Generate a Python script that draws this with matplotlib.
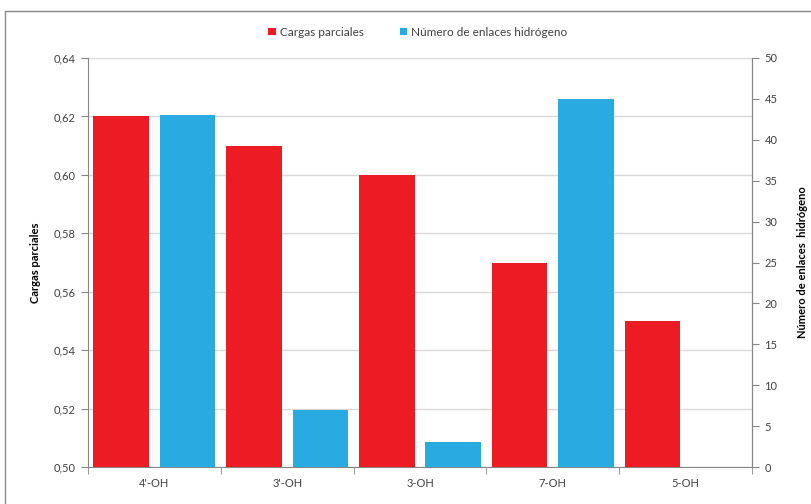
import matplotlib
matplotlib.use("Agg")
import matplotlib.pyplot as plt
from matplotlib.ticker import FuncFormatter, MultipleLocator, FixedLocator
from matplotlib.patches import Rectangle
import numpy as np

categories = ["4'-OH", "3'-OH", "3-OH", "7-OH", "5-OH"]
cargas = [0.62, 0.61, 0.60, 0.57, 0.55]
enlaces = [43, 7, 3, 45, 0]

plt.rcParams['font.family'] = ['Lato', 'DejaVu Sans']
RED = '#ED1C24'
BLUE = '#29ABE2'
SPINE = '#868686'
TXT = '#404040'

fig = plt.figure(figsize=(8.11, 5.04), dpi=100)
fig.patches.append(Rectangle((5/811, -0.1), 1.2, 1 - 11/504 + 0.1, transform=fig.transFigure,
                             fill=False, edgecolor='#8a8a8a', linewidth=1.0))

ax = fig.add_axes([88/811, 1 - 467/504, (752-88)/811, (467-58)/504])
ax2 = ax.twinx()

x = np.arange(len(categories))
w = 0.42
b1 = ax.bar(x - 0.25, np.array(cargas) - 0.50, bottom=0.50, width=w, color=RED, label='Cargas parciales', zorder=3)
b2 = ax2.bar(x + 0.25, enlaces, width=w, color=BLUE, label='Número de enlaces hidrógeno', zorder=3)

ax.set_xlim(-0.5, len(categories) - 0.5)
ax.set_ylim(0.50, 0.64)
ax2.set_ylim(0, 50)
ax.yaxis.set_major_locator(MultipleLocator(0.02))
ax2.yaxis.set_major_locator(MultipleLocator(5))
ax.yaxis.set_major_formatter(FuncFormatter(lambda v, p: f"{v:.2f}".replace('.', ',')))
ax2.yaxis.set_major_formatter(FuncFormatter(lambda v, p: f"{v:.0f}"))

ax.set_xticks(x)
ax.set_xticklabels(categories)
ax.xaxis.set_minor_locator(FixedLocator(np.arange(-0.5, len(categories), 1.0)))
ax.tick_params(axis='x', which='major', length=0, pad=8, labelsize=8, labelcolor=TXT)
ax.tick_params(axis='x', which='minor', length=5, color=SPINE, direction='out')
ax.tick_params(axis='y', length=5, color=SPINE, labelsize=8, labelcolor=TXT, pad=4)
ax2.tick_params(axis='y', length=5, color=SPINE, labelsize=8, labelcolor=TXT, pad=4)

ax.grid(axis='y', color='#D9D9D9', linewidth=1.0, zorder=0)
ax.set_axisbelow(True)
for a in (ax, ax2):
    a.spines['top'].set_visible(False)
    for s in ('left', 'right', 'bottom'):
        a.spines[s].set_color(SPINE)
ax2.spines['left'].set_visible(False)
ax2.spines['bottom'].set_visible(False)

ax.set_ylabel('Cargas parciales', fontsize=8, fontweight='bold', labelpad=9)
ax2.set_ylabel('Número de enlaces  hidrógeno', fontsize=8, fontweight='bold', rotation=90, labelpad=14)

fig.legend(handles=[b1, b2], labels=['Cargas parciales', 'Número de enlaces hidrógeno'],
           loc='center', bbox_to_anchor=(418/811, 1 - 32/504), ncol=2, frameon=False,
           fontsize=8.5, handlelength=0.6, handleheight=0.6, handletextpad=0.4, columnspacing=3.0,
           labelcolor=TXT)

fig.savefig('out.png', dpi=100)
